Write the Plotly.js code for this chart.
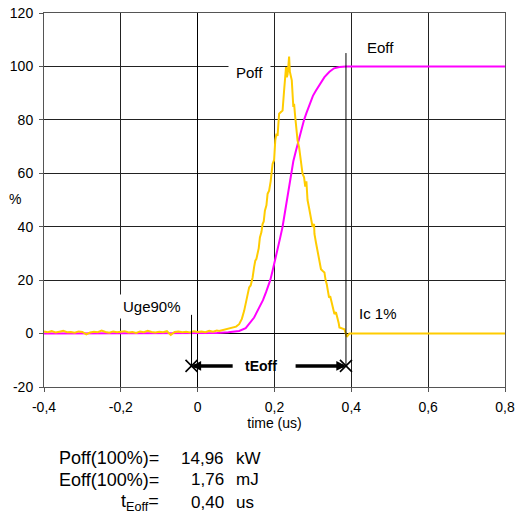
<!DOCTYPE html>
<html><head><meta charset="utf-8">
<script src="https://cdn.plot.ly/plotly-3.0.1.min.js"></script>
<style>html,body{margin:0;padding:0;background:#fff}#chart{width:516px;height:520px}</style>
</head><body><div id="chart"></div>
<script>
// ---- data ----
const poffTime = [-0.40,-0.39,-0.38,-0.37,-0.36,-0.35,-0.34,-0.33,-0.32,-0.31,-0.30,-0.29,-0.28,-0.27,-0.26,-0.25,-0.24,-0.23,-0.22,-0.21,-0.20,-0.19,-0.18,-0.17,-0.16,-0.15,-0.14,-0.13,-0.12,-0.11,-0.10,-0.09,-0.08,-0.07,-0.06,-0.05,-0.04,-0.03,-0.02,-0.01,0.00,0.01,0.02,0.03,0.04,0.05,
  0.056,0.07,0.08,0.091,0.10,0.108,0.115,0.121,0.128,0.134,0.138,0.143,0.147,0.150,0.153,0.156,0.159,0.162,0.166,0.169,0.172,0.175,0.179,0.182,0.186,0.190,0.195,0.199,0.202,0.205,0.208,0.212,0.216,0.221,0.225,0.228,0.230,0.232,0.234,0.236,0.238,0.240,0.241,0.243,0.245,0.249,0.251,0.254,0.257,0.260,0.264,0.268,0.273,0.277,0.280,0.283,0.286,0.290,0.295,0.299,0.303,0.304,0.308,0.312,0.316,0.321,0.325,0.330,0.333,0.336,0.339,0.342,0.345,0.350,0.353,0.356,0.360,0.364,0.367,0.369,0.375,0.382,0.388,0.395,0.60,0.80];
const poffPct = [0.8,0.5,0.9,0.4,0.7,1.0,0.5,0.6,0.3,0.8,0.6,-0.3,0.4,0.7,0.5,1.1,0.6,0.3,0.8,0.5,0.7,0.9,0.4,0.6,0.2,0.8,0.5,1.0,0.6,0.4,0.7,0.5,0.9,-0.5,0.6,0.8,0.5,0.7,0.4,0.9,0.6,0.8,0.5,1.0,0.7,1.1,
  1.0,1.5,1.8,2.3,2.6,3.5,5.5,8.5,13,17.3,18,21,25,27.3,28,30.4,32,36,38,41,42,46,48,52.3,53.5,57,63.5,65,72.3,74.8,74,82.3,83,83.5,91,95,99.8,96,97,100,103.7,98,97.3,96,94.8,84.8,86,81,77,72.3,69.8,65,59.8,58.5,55,57,50,47,42.3,40,41,37.3,34,31,28,24.1,23.5,22.9,20,18.5,16,13.5,14,11,9,7.3,8,6,4,2.3,2,1.6,-1.2,0,0,0];
const eoffTime = [-0.40,0.02,0.05,0.08,0.108,0.125,0.134,0.147,0.160,0.170,0.178,0.189,0.195,0.202,0.208,0.215,0.221,0.226,0.232,0.238,0.243,0.249,0.255,0.260,0.266,0.271,0.277,0.283,0.290,0.300,0.308,0.317,0.330,0.343,0.355,0.369,0.386,0.80];
const eoffPct = [0,0,0.2,0.5,1.0,2,3.5,6,9.7,12.5,15.5,20,23.5,27.5,31.5,36,40,44.5,50,55,60,64.5,68,71,74,77,80,82.5,85.5,89,91,93,96,98,99.3,99.8,100,100];
const markerTimes = [-0.016, 0.386];   // Uge90% and Ic 1% instants (us)
const markerTops = [7, 105];           // where the vertical marker lines start (%)
const tEoffLevel = -12.1;
const arrowTails = [0.095, 0.251];     // inner ends of the tEoff arrows (us)
const xTickVals = [-0.4,-0.2,0,0.2,0.4,0.6,0.8];
const xTickText = ['-0,4','-0,2','0','0,2','0,4','0,6','0,8'];
const yTickVals = [-20,0,20,40,60,80,100,120];
const yTickText = ['-20','0','20','40','60','80','100','120'];
const summaryLabels = ['Poff(100%)=','Eoff(100%)=','t<sub>Eoff</sub>='];
const summaryValues = ['14,96','1,76','0,40'];
const summaryUnits = ['kW','mJ','us'];

const FONT = 'Liberation Sans, Arial, sans-serif';
const traces = [
  {x: eoffTime, y: eoffPct, mode:'lines', line:{color:'#ff00ff', width:2}, hoverinfo:'skip'},
  {x: poffTime, y: poffPct, mode:'lines', line:{color:'#ffcc00', width:2}, hoverinfo:'skip'},
  {x: [markerTimes[0], markerTimes[0]], y:[markerTops[0], tEoffLevel], mode:'lines', line:{color:'#000', width:1}, hoverinfo:'skip'},
  {x: [markerTimes[1], markerTimes[1]], y:[markerTops[1], tEoffLevel], mode:'lines', line:{color:'#000', width:1}, hoverinfo:'skip'},
  {x: markerTimes, y:[tEoffLevel, tEoffLevel], mode:'markers', marker:{symbol:'x-thin-open', size:12, color:'#000', line:{color:'#000', width:1.6}}, hoverinfo:'skip'}
];

// pixel helpers for text placed under the plot (paper coords)
const L = 44, T = 13, W = 461, H = 374;
const px = v => (v - L) / W;
const py = v => (T + H - v) / H;

const ann = [
  {x:0.134, y:97.6, xref:'x', yref:'y', text:'Poff', showarrow:false, bgcolor:'#fff', borderpad:7, font:{size:15}},
  {x:0.477, y:107, xref:'x', yref:'y', text:'Eoff', showarrow:false, font:{size:15}},
  {x:0.47, y:7.4, xref:'x', yref:'y', text:'Ic 1%', showarrow:false, font:{size:15}},
  {x:-0.119, y:10.3, xref:'x', yref:'y', text:'Uge90%', showarrow:false, bgcolor:'#fff', borderpad:3, font:{size:15}},
  {x:0.166, y:tEoffLevel, xref:'x', yref:'y', text:'<b>tEoff</b>', showarrow:false, font:{size:14}},
  {x:px(15), y:py(199), xref:'paper', yref:'paper', xanchor:'center', yanchor:'middle', text:'%', showarrow:false, font:{size:14}}
];
markerTimes.forEach((tip, i) => {
  ann.push({x:tip, y:tEoffLevel, ax:arrowTails[i], ay:tEoffLevel, xref:'x', yref:'y', axref:'x', ayref:'y',
    text:'', showarrow:true, arrowhead:2, arrowsize:0.55, arrowwidth:3.5, arrowcolor:'#000'});
});
const rowsY = [458, 480, 502];
summaryLabels.forEach((s,i)=>{
  const base = {y:py(rowsY[i]), xref:'paper', yref:'paper', yanchor:'middle', showarrow:false};
  ann.push(Object.assign({x:px(161), xanchor:'right', text:s, font:{size:18}}, base));
  ann.push(Object.assign({x:px(226), xanchor:'right', text:summaryValues[i], font:{size:17}}, base));
  ann.push(Object.assign({x:px(234), xanchor:'left', text:summaryUnits[i], font:{size:17}}, base));
});

const axisCommon = {showgrid:true, gridcolor:'#222', gridwidth:1, ticks:'outside', ticklen:4, tickcolor:'#555',
  showline:true, linecolor:'#555', linewidth:1, mirror:true, zeroline:true, zerolinecolor:'#000', zerolinewidth:1,
  tickfont:{size:14, color:'#000', family:FONT}, tickmode:'array', ticklabelstandoff:3, fixedrange:true};

const layout = {
  width:516, height:520, margin:{l:L, r:516-L-W, t:T, b:520-T-H},
  paper_bgcolor:'#fff', plot_bgcolor:'#fff', showlegend:false,
  font:{family:FONT, color:'#000'},
  xaxis: Object.assign({}, axisCommon, {range:[-0.4,0.8], tickvals:xTickVals, ticktext:xTickText,
    title:{text:'time (us)', font:{size:14}, standoff:0}}),
  yaxis: Object.assign({}, axisCommon, {range:[-20,120], tickvals:yTickVals, ticktext:yTickText}),
  annotations: ann
};
Plotly.newPlot('chart', traces, layout, {staticPlot:true, displayModeBar:false});
</script></body></html>
